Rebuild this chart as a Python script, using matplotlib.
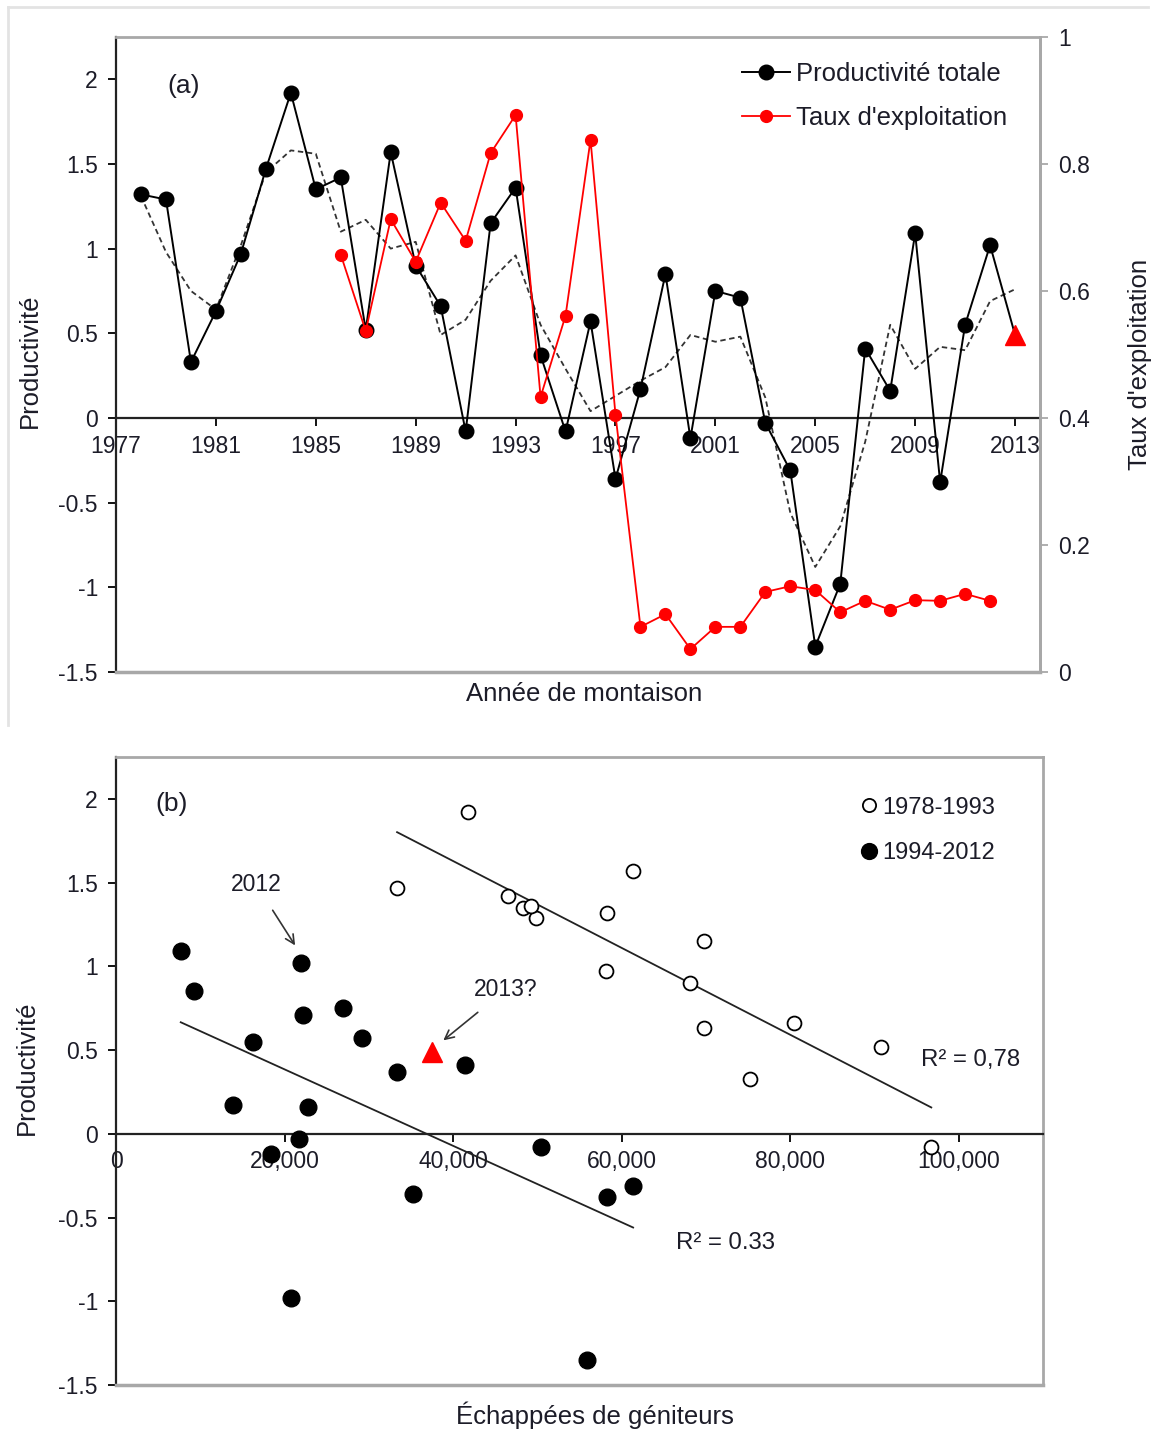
import numpy as np
import matplotlib.pyplot as plt
from matplotlib.lines import Line2D

plt.rcParams['font.family'] = ['Liberation Sans', 'DejaVu Sans']

# --- données (a) : productivité totale par année de montaison
years = list(range(1978, 2013))
prod = [1.32, 1.29, 0.33, 0.63, 0.97, 1.47, 1.92, 1.35, 1.42, 0.52,
        1.57, 0.90, 0.66, -0.08, 1.15, 1.36, 0.37, -0.08, 0.57, -0.36,
        0.17, 0.85, -0.12, 0.75, 0.71, -0.03, -0.31, -1.35, -0.98, 0.41,
        0.16, 1.09, -0.38, 0.55, 1.02]
year_2013 = 2013
prod_2013 = 0.49

# moyenne mobile (ligne pointillée)
ma_years = list(range(1978, 2014))
ma = [1.31, 0.98, 0.75, 0.64, 1.02, 1.45, 1.58, 1.56, 1.10, 1.17,
      1.00, 1.04, 0.49, 0.58, 0.81, 0.96, 0.55, 0.29, 0.04, 0.13,
      0.22, 0.30, 0.49, 0.45, 0.48, 0.12, -0.56, -0.88, -0.64, -0.14,
      0.55, 0.29, 0.42, 0.40, 0.69, 0.76]

# taux d'exploitation (axe de droite)
exp_years = list(range(1986, 2013))
exploit = [0.657, 0.537, 0.713, 0.646, 0.739, 0.679, 0.817, 0.877, 0.433,
           0.561, 0.838, 0.405, 0.071, 0.091, 0.036, 0.071, 0.071, 0.126,
           0.135, 0.129, 0.094, 0.112, 0.098, 0.113, 0.112, 0.123, 0.112]

# --- données (b) : échappées de géniteurs (1978-2012)
esc = [58280, 49850, 75250, 69790, 58160, 33350, 41780, 48310, 46530, 90800,
       61360, 68130, 80470, 96740, 69790, 49260,
       33320, 50450, 29150, 35250, 13840, 9260, 18400, 26980, 22160, 21720,
       61360, 55900, 20770, 41460, 22830, 7680, 58280, 16220, 21960]
esc_2013 = 37510

xticks_a = list(range(1977, 2014, 4))
yticks = [-1.5, -1, -0.5, 0, 0.5, 1, 1.5, 2]
ylabels = ['-1.5', '-1', '-0.5', '0', '0.5', '1', '1.5', '2']
rticks = [0, 0.2, 0.4, 0.6, 0.8, 1]
rlabels = ['0', '0.2', '0.4', '0.6', '0.8', '1']
xticks_b = [0, 20000, 40000, 60000, 80000, 100000]
xlabels_b = ['0', '20,000', '40,000', '60,000', '80,000', '100,000']

GRAY = '#a8a8a8'
TXT = '#1c1c28'
TICK_FS = 16.5
LAB_FS = 18.5

fig = plt.figure(figsize=(11.51, 14.37), dpi=100)


def style(ax):
    for s in ['top', 'right']:
        ax.spines[s].set_color(GRAY)
        ax.spines[s].set_linewidth(2)
    ax.spines['left'].set_color('#222222')
    ax.spines['left'].set_linewidth(1.6)
    ax.spines['bottom'].set_position(('data', 0))
    ax.spines['bottom'].set_color('#222222')
    ax.spines['bottom'].set_linewidth(1.6)
    # bordure du bas du cadre
    ax.plot([0, 1], [0, 0], transform=ax.transAxes, color=GRAY, lw=2.5,
            clip_on=False, zorder=5)
    ax.set_yticks(yticks)
    ax.set_yticklabels(ylabels)
    ax.tick_params(axis='y', direction='out', length=6, width=1.3,
                   labelsize=TICK_FS, pad=7, labelcolor=TXT)
    ax.tick_params(axis='x', direction='out', length=6, width=1.3,
                   labelsize=TICK_FS, pad=6, labelcolor=TXT)
    ax.set_ylim(-1.5, 2.25)


# ---------------- (a)
ax = fig.add_axes([0.1008, 0.5324, 0.8028, 0.4419])
style(ax)
ax.set_xlim(1977, 2014)
ax.set_xticks(xticks_a)
ax.set_xticklabels([str(y) for y in xticks_a])

ax.plot(ma_years, ma, color='#333333', lw=1.3, ls=(0, (3, 2)), zorder=2)
ax.plot(years, prod, color='black', lw=1.4, marker='o', ms=10.5, zorder=3)
ax.plot([years[-1], year_2013], [prod[-1], prod_2013], color='black', lw=1.4, zorder=3)
ax.plot([year_2013], [prod_2013], marker='^', color='#ff0000', ms=14, ls='none',
        zorder=4, clip_on=False)

ax2 = ax.twinx()
ax2.set_ylim(0, 1)
ax2.set_yticks(rticks)
ax2.set_yticklabels(rlabels)
for s in ['top', 'left', 'bottom']:
    ax2.spines[s].set_visible(False)
ax2.spines['right'].set_color(GRAY)
ax2.spines['right'].set_linewidth(2)
ax2.tick_params(axis='y', direction='out', length=6, width=1.3, color=GRAY,
                labelsize=TICK_FS, pad=7, labelcolor=TXT)
ax2.plot(exp_years, exploit, color='#ff0000', lw=1.3, marker='o', ms=8.5, zorder=3)

ax.text(0.0736, 0.923, '(a)', transform=ax.transAxes, fontsize=LAB_FS + 0.5,
        ha='center', va='center', color=TXT)
ax.text(-0.093, 0.49, 'Productivité', transform=ax.transAxes, rotation=90,
        fontsize=LAB_FS, ha='center', va='center', color=TXT)
ax.text(0.5065, -0.0346, 'Année de montaison', transform=ax.transAxes,
        fontsize=LAB_FS, ha='center', va='center', color=TXT)
ax.text(1.108, 0.485, "Taux d'exploitation", transform=ax.transAxes, rotation=90,
        fontsize=LAB_FS, ha='center', va='center', color=TXT)

handles = [Line2D([], [], color='black', lw=1.4, marker='o', ms=10.5),
           Line2D([], [], color='#ff0000', lw=1.3, marker='o', ms=8.5)]
leg = ax2.legend(handles, ['Productivité totale', "Taux d'exploitation"],
                 loc='upper right', bbox_to_anchor=(0.975, 0.977), frameon=False,
                 fontsize=LAB_FS, handlelength=1.9, handletextpad=0.2,
                 labelspacing=0.78, borderaxespad=0)
for t in leg.get_texts():
    t.set_color(TXT)

# ---------------- (b)
bx = fig.add_axes([0.1008, 0.0362, 0.8054, 0.4370])
style(bx)
bx.set_xlim(0, 110000)
bx.set_xticks(xticks_b)
bx.set_xticklabels(xlabels_b)

esc_arr = np.array(esc)
prod_arr = np.array(prod)
early = np.array(years) <= 1993
late = ~early

bx.plot(esc_arr[early], prod_arr[early], ls='none', marker='o', ms=10,
        mfc='white', mec='black', mew=1.3, zorder=3, label='1978-1993')
bx.plot(esc_arr[late], prod_arr[late], ls='none', marker='o', ms=12,
        color='black', zorder=3, label='1994-2012')
bx.plot([esc_2013], [prod_2013], ls='none', marker='^', ms=15, color='#ff0000',
        zorder=4)

# droites de régression
for mask in (early, late):
    xs = esc_arr[mask]
    a, b = np.polyfit(xs, prod_arr[mask], 1)
    xl = np.array([xs.min(), xs.max()])
    bx.plot(xl, a * xl + b, color='#222222', lw=1.3, zorder=2)

bx.text(95500, 0.44, 'R² = 0,78', fontsize=TICK_FS + 0.8, ha='left', va='center', color=TXT)
bx.text(66500, -0.655, 'R² = 0.33', fontsize=TICK_FS + 0.8, ha='left', va='center', color=TXT)

bx.annotate('2012', xy=(21250, 1.125), xytext=(16620, 1.49), fontsize=TICK_FS,
            ha='center', va='center', color=TXT,
            arrowprops=dict(arrowstyle='->', color='#333333', lw=1.2,
                            shrinkA=10, shrinkB=0, mutation_scale=16))
bx.annotate('2013?', xy=(38840, 0.558), xytext=(46290, 0.863), fontsize=TICK_FS,
            ha='center', va='center', color=TXT,
            arrowprops=dict(arrowstyle='->', color='#333333', lw=1.2,
                            shrinkA=10, shrinkB=0, mutation_scale=16))

bx.text(0.060, 0.925, '(b)', transform=bx.transAxes, fontsize=LAB_FS + 0.5,
        ha='center', va='center', color=TXT)
bx.text(-0.096, 0.505, 'Productivité', transform=bx.transAxes, rotation=90,
        fontsize=LAB_FS, ha='center', va='center', color=TXT)
bx.text(0.517, -0.048, 'Échappées de géniteurs', transform=bx.transAxes,
        fontsize=LAB_FS, ha='center', va='center', color=TXT)

legb = bx.legend(loc='upper right', bbox_to_anchor=(0.959, 0.952), frameon=False,
                 fontsize=TICK_FS + 0.5, handlelength=0.6, handletextpad=0.3,
                 labelspacing=1.0, borderaxespad=0, markerscale=0.95)
for t in legb.get_texts():
    t.set_color(TXT)

# cadre gris clair autour du panneau (a)
fig.add_artist(Line2D([0.007, 0.997], [0.9951, 0.9951], transform=fig.transFigure,
                      color='#e3e3e3', lw=2))
fig.add_artist(Line2D([0.007, 0.007], [0.9951, 0.4955], transform=fig.transFigure,
                      color='#e3e3e3', lw=2))

fig.savefig('out.png', dpi=100)
